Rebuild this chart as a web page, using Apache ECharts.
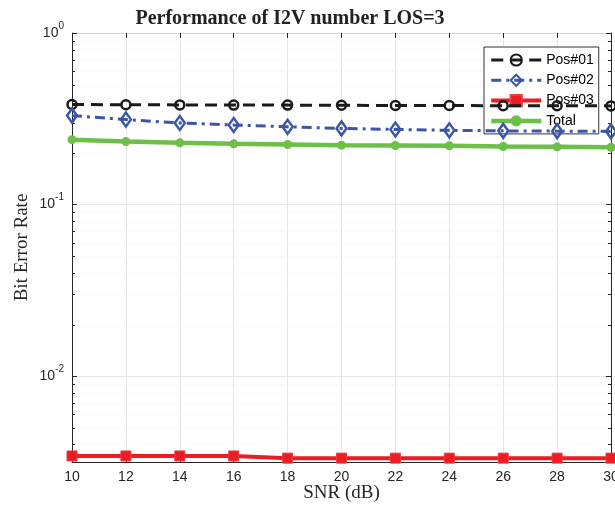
<!DOCTYPE html>
<html>
<head>
<meta charset="utf-8">
<script src="https://cdn.jsdelivr.net/npm/echarts@6/dist/echarts.min.js"></script>
<style>html,body{margin:0;padding:0;background:#fff;}#chart{width:615px;height:510px;}</style>
</head>
<body>
<div id="chart"></div>
<script>
var snr = [10, 12, 14, 16, 18, 20, 22, 24, 26, 28, 30];
var pos01 = [0.383, 0.382, 0.381, 0.380, 0.380, 0.379, 0.378, 0.378, 0.377, 0.377, 0.376];
var pos02 = [0.330, 0.313, 0.299, 0.291, 0.284, 0.278, 0.274, 0.271, 0.269, 0.268, 0.267];
var pos03 = [0.00343, 0.00343, 0.00343, 0.00343, 0.00333, 0.00333, 0.00333, 0.00333, 0.00333, 0.00333, 0.00333];
var total = [0.239, 0.233, 0.229, 0.226, 0.224, 0.222, 0.221, 0.220, 0.218, 0.217, 0.216];
var seriesNames = ['Pos#01', 'Pos#02', 'Pos#03', 'Total'];
var titleText = 'Performance of I2V number LOS=3';
var xName = 'SNR (dB)';
var yName = 'Bit Error Rate';
var yMin = Math.pow(10, -2.5);
var yMax = 1;

function pairs(xs, ys) { return xs.map(function (x, i) { return [x, ys[i]]; }); }

var minorVals = [];
for (var e = -3; e <= -1; e++) {
  for (var k = 2; k <= 9; k++) {
    var v = k * Math.pow(10, e);
    if (v > yMin && v < yMax) minorVals.push([snr[0], v]);
  }
}

var axisColor = '#262626';
var sansFont = 'Liberation Sans, Arial, sans-serif';
var serifFont = 'Liberation Serif, Times New Roman, serif';
var squarePath = 'path://M0,0L10,0L10,10L0,10Z';

function logLabel(val) {
  var l = Math.log10(val);
  var r = Math.round(l);
  if (Math.abs(l - r) > 1e-6) return '';
  return '{b|10}{s|' + r + '}';
}

var chart = echarts.init(document.getElementById('chart'));
chart.setOption({
  animation: false,
  backgroundColor: '#ffffff',
  title: {
    text: titleText,
    left: 290,
    textAlign: 'center',
    top: 9,
    padding: 0,
    textStyle: { fontFamily: serifFont, fontWeight: 'bold', fontSize: 20, color: '#222222' }
  },
  grid: { left: 72, right: 4, top: 33, bottom: 48, outerBoundsMode: 'none', containLabel: false },
  legend: {
    data: [
      { name: seriesNames[0], lineStyle: { width: 3 } },
      { name: seriesNames[1], lineStyle: { width: 3 } },
      { name: seriesNames[2], lineStyle: { width: 4 } },
      { name: seriesNames[3], lineStyle: { width: 4.5 } }
    ],
    orient: 'vertical',
    left: 484,
    top: 47,
    padding: [6, 5, 6, 5],
    itemWidth: 50,
    itemHeight: 14,
    itemGap: 6.3,
    borderColor: '#333333',
    borderWidth: 1,
    backgroundColor: '#ffffff',
    textStyle: { fontFamily: sansFont, fontSize: 14, color: '#000000' }
  },
  xAxis: [{
    type: 'value',
    min: 10, max: 30, interval: 2,
    position: 'bottom',
    name: xName,
    nameLocation: 'middle',
    nameGap: 22,
    nameMoveOverlap: false,
    nameTextStyle: { fontFamily: serifFont, fontSize: 19, color: axisColor, verticalAlign: 'top' },
    axisLine: { show: true, lineStyle: { color: axisColor, width: 1 } },
    axisTick: { show: true, inside: true, length: 5, lineStyle: { color: axisColor } },
    axisLabel: { fontFamily: sansFont, fontSize: 14, color: axisColor, margin: 8 },
    splitLine: { show: true, lineStyle: { color: '#e6e6e6', width: 1 } }
  }, {
    type: 'value',
    min: 10, max: 30, interval: 2,
    position: 'top',
    axisLine: { show: true, lineStyle: { color: '#d4d4d4', width: 1 } },
    axisTick: { show: true, inside: true, length: 5, lineStyle: { color: axisColor } },
    axisLabel: { show: false },
    splitLine: { show: false }
  }],
  yAxis: [{
    type: 'log',
    logBase: 10,
    min: yMin, max: yMax,
    position: 'left',
    name: yName,
    nameLocation: 'middle',
    nameGap: 40,
    nameMoveOverlap: false,
    nameTextStyle: { fontFamily: serifFont, fontSize: 19, color: axisColor },
    axisLine: { show: true, lineStyle: { color: axisColor, width: 1 } },
    axisTick: { show: true, inside: true, length: 5, lineStyle: { color: axisColor } },
    axisLabel: {
      margin: 8,
      formatter: logLabel,
      rich: {
        b: { fontFamily: sansFont, fontSize: 14, color: axisColor, lineHeight: 14, verticalAlign: 'bottom' },
        s: { fontFamily: sansFont, fontSize: 10, color: axisColor, lineHeight: 10, verticalAlign: 'bottom', padding: [0, 0, 9, 0] }
      }
    },
    splitLine: { show: true, lineStyle: { color: '#e6e6e6', width: 1 } }
  }, {
    type: 'log',
    logBase: 10,
    min: yMin, max: yMax,
    position: 'right',
    axisLine: { show: true, lineStyle: { color: axisColor, width: 1 } },
    axisTick: { show: true, inside: true, length: 5, lineStyle: { color: axisColor } },
    axisLabel: { show: false },
    splitLine: { show: false }
  }],
  series: [{
    type: 'custom',
    name: 'minor',
    xAxisIndex: 0, yAxisIndex: 0,
    silent: true,
    z: 1,
    encode: { x: 0, y: 1 },
    data: minorVals,
    renderItem: function (params, api) {
      var v = api.value(1);
      var p = api.coord([10, v]);
      var q = api.coord([30, v]);
      var y = Math.round(p[1]) + 0.5;
      return { type: 'group', children: [
        { type: 'line', shape: { x1: p[0], y1: y, x2: q[0], y2: y }, style: { stroke: '#e9e9e9', lineWidth: 1, lineDash: [1, 3] } },
        { type: 'line', shape: { x1: p[0], y1: y, x2: p[0] + 3, y2: y }, style: { stroke: axisColor, lineWidth: 1 } },
        { type: 'line', shape: { x1: q[0] - 3, y1: y, x2: q[0], y2: y }, style: { stroke: axisColor, lineWidth: 1 } }
      ] };
    }
  }, {
    name: seriesNames[0], type: 'line', z: 5,
    data: pairs(snr, pos01),
    color: '#1a1a1a',
    symbol: 'circle', symbolSize: 9,
    lineStyle: { color: '#1a1a1a', width: 3, type: [12, 7] },
    itemStyle: { color: 'rgba(255,255,255,0)', borderColor: '#1a1a1a', borderWidth: 2.5 }
  }, {
    name: seriesNames[1], type: 'line', z: 5,
    data: pairs(snr, pos02),
    color: '#3b56a6',
    symbol: 'diamond', symbolSize: [10, 14],
    lineStyle: { color: '#3b56a6', width: 3, type: [10, 5, 3, 5] },
    itemStyle: { color: 'rgba(255,255,255,0)', borderColor: '#3b56a6', borderWidth: 2.5 }
  }, {
    name: seriesNames[2], type: 'line', z: 5,
    data: pairs(snr, pos03),
    color: '#ed1c24',
    symbol: squarePath, symbolSize: 10,
    lineStyle: { color: '#ed1c24', width: 4 },
    itemStyle: { color: '#ed1c24', borderColor: '#ee3a40', borderWidth: 1 }
  }, {
    name: seriesNames[3], type: 'line', z: 5,
    data: pairs(snr, total),
    color: '#6cbf47',
    symbol: 'circle', symbolSize: 9,
    lineStyle: { color: '#6cbf47', width: 4.5 },
    itemStyle: { color: '#6cbf47' }
  }]
});
</script>
</body>
</html>
